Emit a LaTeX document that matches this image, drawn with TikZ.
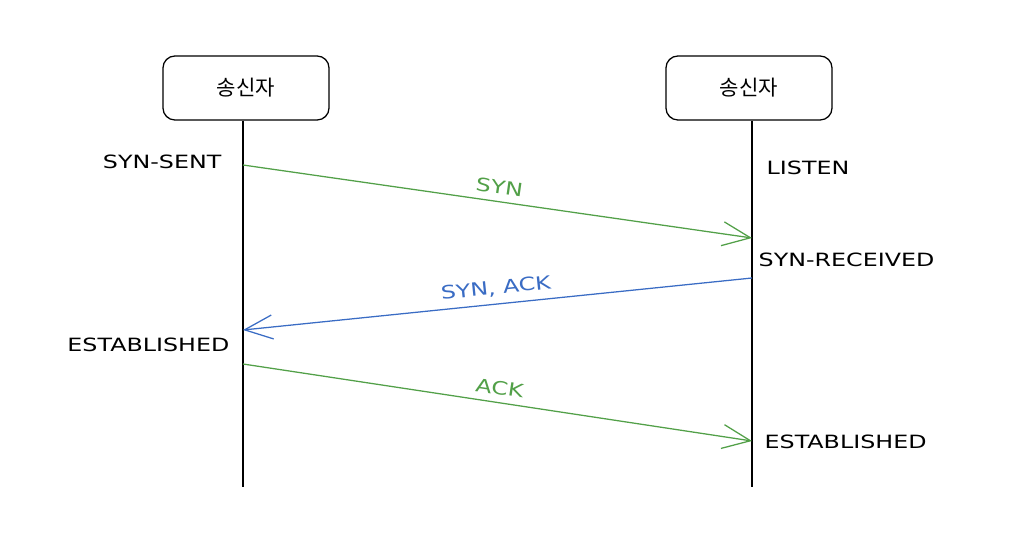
\documentclass[tikz,border=0pt]{standalone}
\usepackage{fontspec}
\setmainfont{DejaVu Sans}
\newfontfamily\krfont{Noto Sans CJK KR}
\newfontfamily\wideface[FakeStretch=1.3]{DejaVu Sans}
\usetikzlibrary{arrows.meta}
\usetikzlibrary{positioning}
\definecolor{syngreen}{RGB}{82,160,72}
\definecolor{ackblue}{RGB}{58,108,196}

\begin{document}
\begin{tikzpicture}[x=0.025cm,y=-0.025cm,
hostnode/.style={rectangle, rounded corners=3mm, draw=black, line width=0.9pt, fill=white,
minimum width=4.15cm, minimum height=1.6cm, font=\krfont\fontsize{15}{18}\selectfont},
statenode/.style={font=\wideface\fontsize{13}{15}\selectfont, inner sep=1pt},
msgline/.style={line width=0.9pt, -{Straight Barb[length=7mm,width=6mm,line width=0.9pt]}},
msglabel/.style={font=\wideface\fontsize{13}{15}\selectfont, sloped, above, inner sep=5pt}
]
\useasboundingbox (0,0) rectangle (1022,544);
%Nodes
\node[hostnode] (snd) at (246,88) {송신자};
\node[hostnode] (rcv) at (749,88) {송신자};
\coordinate (sndend) at (243,487);
\coordinate (rcvend) at (752,487);
%Lifelines
\draw[line width=0.9pt] (snd.south -| sndend) -- (sndend);
\draw[line width=0.9pt] (rcv.south -| rcvend) -- (rcvend);
%Points on lifelines
\coordinate (s1) at (243,165);
\coordinate (r1) at (752,238);
\coordinate (r2) at (752,278);
\coordinate (s2) at (243,330);
\coordinate (s3) at (243,364);
\coordinate (r3) at (752,441);
%States
\node[statenode, anchor=east] (synsent) at (223,162) {SYN-SENT};
\node[statenode, anchor=west] (listen) at (765,168) {LISTEN};
\node[statenode, anchor=west] (synrcvd) at (757,260) {SYN-RECEIVED};
\node[statenode, anchor=east] (estl) at (231,345) {ESTABLISHED};
\node[statenode, anchor=west] (estr) at (763,442) {ESTABLISHED};
%Lines
\draw[msgline, syngreen] (s1) -- node[msglabel] {SYN} (r1);
\draw[msgline, ackblue] (r2) -- node[msglabel] {SYN, ACK} (s2);
\draw[msgline, syngreen] (s3) -- node[msglabel] {ACK} (r3);
\end{tikzpicture}
\end{document}
